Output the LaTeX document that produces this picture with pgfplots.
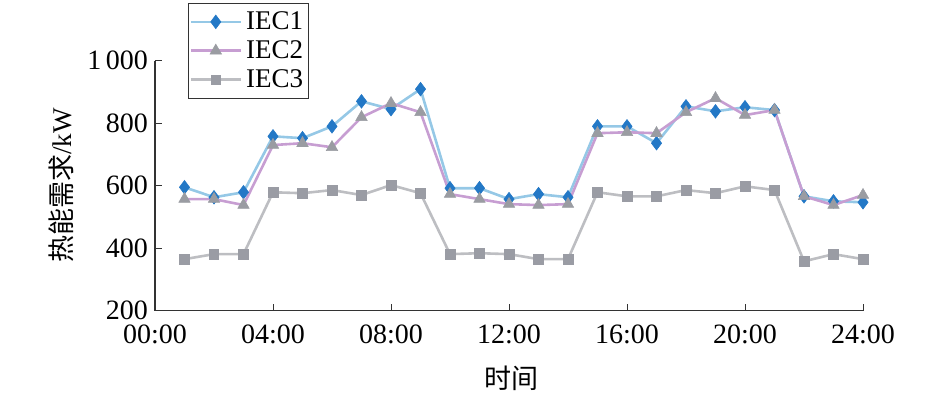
\documentclass[border=0pt]{standalone}
\usepackage{fontspec}
\setmainfont{Liberation Serif}
\newfontfamily\cjk{Noto Sans CJK SC}
\usepackage{pgfplots}
\pgfplotsset{compat=1.18}
\definecolor{l1}{HTML}{95C8E6}
\definecolor{m1}{HTML}{2378C6}
\definecolor{l2}{HTML}{C79ED2}
\definecolor{m2}{HTML}{9A9CA2}
\definecolor{l3}{HTML}{BDBEC2}
\definecolor{m3}{HTML}{9A9CA4}
\begin{document}
\begin{tikzpicture}[x=1pt,y=1pt]
\begin{axis}[
  name=ax,
  at={(0,0)}, anchor=south west,
  scale only axis, width=354pt, height=125pt,
  xmin=0, xmax=24, ymin=200, ymax=1000,
  axis x line*=bottom, axis y line*=left,
  axis line style={line width=0.6pt, draw=black!80},
  tick align=inside, major tick length=3.5pt,
  tick style={line width=0.5pt, black!80},
  xtick={0,4,...,24},
  xticklabels={00:00,04:00,08:00,12:00,16:00,20:00,24:00},
  ytick={200,400,...,1000},
  /pgf/number format/assume math mode=true,
  /pgf/number format/1000 sep={\,},
  ticklabel style={font=\fontsize{14}{15}\selectfont},
  xticklabel style={yshift=-3.5pt},
  yticklabel style={xshift=0pt},
  xlabel={\cjk 时间}, ylabel={{\cjk 热能需求}/kW},
  label style={font=\fontsize{13.5}{15}\selectfont},
  xlabel style={at={(axis description cs:0.503,-0.269)}, anchor=center},
  ylabel style={at={(axis description cs:-0.133,0.5)}, anchor=center},
  legend style={at={(0.0466,1.231)}, anchor=north west, draw=black!80, line width=0.5pt,
    font=\fontsize{13.5}{15}\selectfont, row sep=0pt, inner xsep=0.5pt, inner ysep=2pt},
  legend cell align=left,
  legend image code/.code={\draw[mark repeat=2,mark phase=2] plot coordinates {(0pt,0pt) (12.5pt,0pt) (25pt,0pt)};},
  every axis plot/.append style={line width=1.3pt},
]
\addplot[l1, mark=diamond*, mark size=3.4pt, mark options={fill=m1, draw=m1, line width=0.3pt}] coordinates {
(1,595) (2,563) (3,579) (4,758) (5,752) (6,790) (7,870) (8,845) (9,909) (10,592) (11,592) (12,557)
(13,573) (14,563) (15,790) (16,790) (17,736) (18,854) (19,838) (20,851) (21,842) (22,566) (23,550) (24,547)};
\addlegendentry{IEC1}
\addplot[l2, mark=triangle*, mark size=3.3pt, mark options={fill=m2, draw=m2, line width=0.3pt}] coordinates {
(1,557) (2,557) (3,538) (4,730) (5,736) (6,723) (7,819) (8,864) (9,835) (10,573) (11,557) (12,541)
(13,538) (14,541) (15,768) (16,771) (17,768) (18,835) (19,880) (20,826) (21,842) (22,566) (23,538) (24,570)};
\addlegendentry{IEC2}
\addplot[l3, mark=square*, mark size=2.4pt, mark options={fill=m3, draw=m3, line width=0.3pt}] coordinates {
(1,365) (2,381) (3,381) (4,579) (5,576) (6,586) (7,570) (8,602) (9,576) (10,381) (11,384) (12,381)
(13,365) (14,365) (15,579) (16,566) (17,566) (18,586) (19,576) (20,598) (21,586) (22,358) (23,381) (24,365)};
\addlegendentry{IEC3}
\end{axis}
\pgfresetboundingbox
\path[use as bounding box] (-77.5pt,-42.65pt) rectangle (395pt,155.35pt);
\end{tikzpicture}
\end{document}
